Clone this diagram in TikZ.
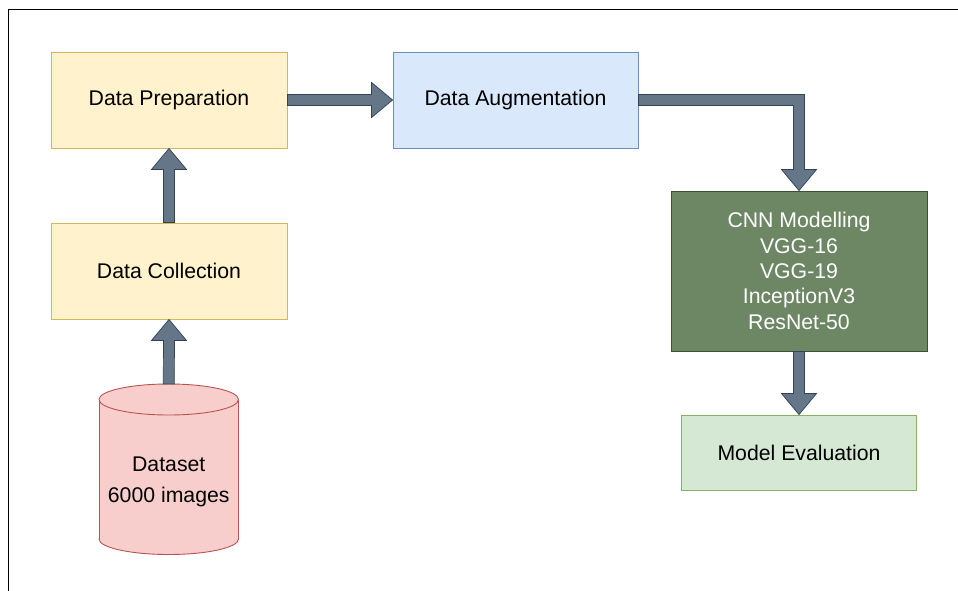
\documentclass[tikz,border=0pt]{standalone}
\usepackage{fontspec}
\setmainfont{Liberation Sans}
\usetikzlibrary{calc}
\definecolor{yfill}{HTML}{FFF2CC}\definecolor{ydraw}{HTML}{D6B656}
\definecolor{bfill}{HTML}{DAE8FC}\definecolor{bdraw}{HTML}{6C8EBF}
\definecolor{rfill}{HTML}{F8CECC}\definecolor{rdraw}{HTML}{B85450}
\definecolor{gfill}{HTML}{6D8764}\definecolor{gdraw}{HTML}{3A5431}
\definecolor{lgfill}{HTML}{D5E8D4}\definecolor{lgdraw}{HTML}{82B366}
\definecolor{afill}{HTML}{647687}\definecolor{adraw}{HTML}{314354}
\tikzset{
  box/.style={draw, line width=0.9pt, minimum width=#1, inner sep=0pt, align=center,
    font=\fontsize{21.25}{25.4}\selectfont},
  flex/.style={fill=afill, draw=adraw, line width=0.7pt, line join=miter},
}
\newcommand\flexup[2]{\draw[flex] ($(#1)+(-5.5,0)$) -- ($(#2)+(-5.5,21)$) -- ($(#2)+(-17.5,21)$) -- (#2) -- ($(#2)+(17.5,21)$) -- ($(#2)+(5.5,21)$) -- ($(#1)+(5.5,0)$) -- cycle;}
\newcommand\flexdown[2]{\draw[flex] ($(#1)+(-5.5,0)$) -- ($(#2)+(-5.5,-21)$) -- ($(#2)+(-17.5,-21)$) -- (#2) -- ($(#2)+(17.5,-21)$) -- ($(#2)+(5.5,-21)$) -- ($(#1)+(5.5,0)$) -- cycle;}
\newcommand\flexright[2]{\draw[flex] ($(#1)+(0,-5.5)$) -- ($(#2)+(-21,-5.5)$) -- ($(#2)+(-21,-17.5)$) -- (#2) -- ($(#2)+(-21,17.5)$) -- ($(#2)+(-21,5.5)$) -- ($(#1)+(0,5.5)$) -- cycle;}
\begin{document}
\begin{tikzpicture}[x=1pt,y=-1pt]
\useasboundingbox (0,0) rectangle (958,591);
\fill[white] (0,0) rectangle (958,591);
% frame
\draw[line width=1.6pt] (8.5,591) -- (8.5,9.5) -- (958,9.5);

\node[box=236pt, minimum height=96pt, fill=yfill, draw=ydraw] (dp) at (169,100) {Data Preparation};
\node[box=245pt, minimum height=96pt, fill=bfill, draw=bdraw] (da) at (515.5,100) {Data Augmentation};
\node[box=236pt, minimum height=96pt, fill=yfill, draw=ydraw] (dc) at (169,271) {Data Collection};
\node[box=256pt, minimum height=160pt, fill=gfill, draw=gdraw, text=white] (cnn) at (799,271)
  {CNN Modelling\\VGG-16\\VGG-19\\InceptionV3\\ResNet-50};
\node[box=235pt, minimum height=75pt, fill=lgfill, draw=lgdraw] (me) at (799,452.5) {Model Evaluation};

% cylinder
\fill[rfill, draw=rdraw, line width=0.9pt] (168.75,539) ellipse [x radius=69.75, y radius=15.5];
\fill[rfill] (99,399.5) rectangle (238.5,539);
\draw[rdraw, line width=0.9pt] (99,399.5) -- (99,539) (238.5,399.5) -- (238.5,539);
\fill[rfill, draw=rdraw, line width=0.9pt] (168.75,399.5) ellipse [x radius=69.75, y radius=15.5];
\coordinate (dstop) at (168.75,384);
\node[box=130pt, draw=none, font=\fontsize{21.25}{30.5}\selectfont] (ds) at (168.75,482) {Dataset\\6000 images};

% arrows
\flexup{dstop}{dc.south}
\flexup{dc.north}{dp.south}
\flexright{dp.east}{da.west}
\coordinate (k1) at ($(cnn.north)+(5.5,0)$);
\coordinate (k2) at ($(cnn.north)+(-5.5,0)$);
\coordinate (h1) at ($(da.east)+(0,-5.5)$);
\coordinate (h2) at ($(da.east)+(0,5.5)$);
\draw[flex] (h1) -- (k1 |- h1) -- ($(cnn.north)+(5.5,-21)$) -- ($(cnn.north)+(17.5,-21)$) -- (cnn.north)
  -- ($(cnn.north)+(-17.5,-21)$) -- ($(cnn.north)+(-5.5,-21)$) -- (k2 |- h2) -- (h2) -- cycle;
\flexdown{cnn.south}{me.north}
\end{tikzpicture}
\end{document}
